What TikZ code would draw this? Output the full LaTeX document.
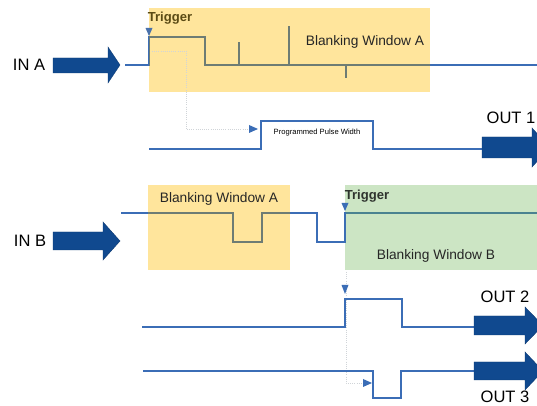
\documentclass[tikz,border=0pt]{standalone}
\usepackage{fontspec}
\setmainfont{Liberation Sans}
\definecolor{sig}{HTML}{3B6DB6}
\definecolor{sigY}{HTML}{6E7C74}
\definecolor{sigG}{HTML}{4A8290}
\definecolor{bigblue}{HTML}{10498F}
\definecolor{winA}{HTML}{FFE59C}
\definecolor{winB}{HTML}{CCE5C4}
\definecolor{dotc}{HTML}{D0D4D8}
\definecolor{trigA}{HTML}{5A4A14}
\definecolor{trigB}{HTML}{2E332E}
\begin{document}
\begin{tikzpicture}[x=0.75pt,y=-0.75pt,
  signal/.style={draw=sig,line width=1.2pt,line join=miter},
  bigarrow/.style={fill=bigblue,draw=bigblue!80!black,line width=0.3pt},
  marker/.style={fill=sig,draw=none},
  guide/.style={draw=dotc,line width=0.6pt,densely dotted},
  lbl/.style={inner sep=0pt,font=\fontsize{12.4}{14}\selectfont},
  wlbl/.style={inner sep=0pt,font=\fontsize{10.3}{12}\selectfont,text=black!85},
  trig/.style={inner sep=0pt,font=\bfseries\fontsize{9.8}{11}\selectfont}]
\useasboundingbox (0,0) rectangle (537,406);
\clip (0,0) rectangle (537,406);
\fill[white] (0,0) rectangle (537,406);

% windows
\fill[winA] (149,8) rectangle (430,92);
\fill[winA] (148,185) rectangle (290,270);
\fill[winB] (345,185) rectangle (540,270);

% guide lines (dotted)
\coordinate (g1) at (152,51);
\coordinate (g2) at (186,51);
\coordinate (g3) at (186,129);
\coordinate (g4) at (250,129);
\draw[guide] (g1) -- (g2) -- (g3) -- (g4);
\fill[marker] (249,125) -- (258,129) -- (249,133) -- cycle;
\coordinate (h1) at (346,272);
\coordinate (h2) at (346,383);
\coordinate (h3) at (364,383);
\draw[guide] (h1) -- (h2) -- (h3);
\fill[marker] (363,379) -- (372,383) -- (363,387) -- cycle;

% signal IN A
\def\sigA{(125,65) -- (149,65) -- (149,37) -- (205,37) -- (205,65) -- (540,65)
  (239,65) -- (239,42) (289,65) -- (289,26) (346,65) -- (346,78)}
\draw[signal] \sigA;
\begin{scope}
\clip (149,8) rectangle (430,92);
\draw[signal,draw=sigY] \sigA;
\end{scope}

% OUT 1
\draw[signal] (149,149) -- (261,149) -- (261,121) -- (373,121) -- (373,149) -- (482,149);

% signal IN B
\def\sigB{(121,213) -- (233,213) -- (233,242) -- (262,242) -- (262,213) -- (317,213)
  -- (317,242) -- (345,242) -- (345,213) -- (540,213)}
\draw[signal] \sigB;
\begin{scope}
\clip (148,185) rectangle (290,270);
\draw[signal,draw=sigY] \sigB;
\end{scope}
\begin{scope}
\clip (345.8,185) rectangle (540,270);
\draw[signal,draw=sigG] \sigB;
\end{scope}

% OUT 2 / OUT 3
\draw[signal] (142,327) -- (345,327) -- (345,299) -- (402,299) -- (402,327) -- (474,327);
\draw[signal] (143,371) -- (373,371) -- (373,398) -- (401,398) -- (401,371) -- (474,371);

% trigger markers
\fill[marker,fill=sig!80!gray] (145.5,28) -- (152.5,28) -- (149,36) -- cycle;
\fill[marker] (341.5,203) -- (348.5,203) -- (345,211) -- cycle;
\fill[marker] (341.5,285) -- (348.5,285) -- (345,294) -- cycle;

% big arrows
\path[bigarrow] (53,58) -- (108,58) -- (108,47) -- (120,65) -- (108,83) -- (108,73) -- (53,73) -- cycle;
\path[bigarrow] (53,232) -- (103,232) -- (103,222) -- (120,241) -- (103,260) -- (103,250) -- (53,250) -- cycle;
\path[bigarrow] (482,137) -- (532,137) -- (532,128) -- (550,147.5) -- (532,167) -- (532,158) -- (482,158) -- cycle;
\path[bigarrow] (474,316) -- (525,316) -- (525,307) -- (543,325.5) -- (525,344) -- (525,335) -- (474,335) -- cycle;
\path[bigarrow] (474,362) -- (525,362) -- (525,352) -- (543,371) -- (525,390) -- (525,380) -- (474,380) -- cycle;

% labels
\node[lbl] (inA) at (29,65) {IN A};
\node[lbl] (inB) at (30,241) {IN B};
\node[lbl] (out1) at (511,118) {OUT 1};
\node[lbl] (out2) at (505,297) {OUT 2};
\node[lbl] (out3) at (505,397) {OUT 3};
\node[trig,text=trigA] (trgA) at (170,18) {Trigger};
\node[trig,text=trigB] (trgB) at (367,196) {Trigger};
\node[wlbl] (bwA1) at (365,42) {Blanking Window A};
\node[wlbl] (bwA2) at (219,199) {Blanking Window A};
\node[wlbl] (bwB) at (436,256) {Blanking Window B};
\node[inner sep=0pt,font=\fontsize{5.7}{7}\selectfont] (ppw) at (317,133) {Programmed Pulse Width};
\end{tikzpicture}
\end{document}
